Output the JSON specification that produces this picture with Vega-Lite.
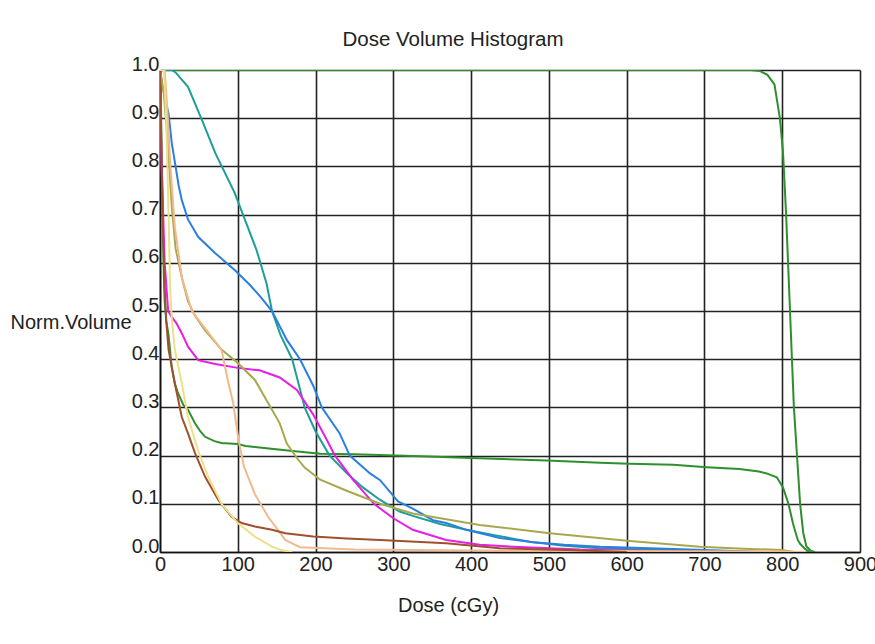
{
  "$schema": "https://vega.github.io/schema/vega-lite/v6.json",
  "width": 700,
  "height": 482,
  "autosize": {"type": "none"},
  "padding": {"left": 160, "top": 70, "right": 15, "bottom": 92},
  "background": "white",
  "title": {"text": "Dose Volume Histogram", "fontSize": 20.5, "fontWeight": "normal", "font": "Liberation Sans", "color": "#222222", "anchor": "middle", "frame": "group", "dx": -57, "offset": 4},
  "config": {
    "view": {"stroke": null},
    "axis": {"labelFont": "Liberation Sans", "titleFont": "Liberation Sans", "labelFontSize": 20, "titleFontSize": 20, "labelColor": "#222222", "titleColor": "#222222", "titleFontWeight": "normal", "gridColor": "#222222", "gridWidth": 1.6, "gridOpacity": 1, "domainColor": "#111111", "domainWidth": 1.6, "ticks": false, "labelFlush": false}
  },
  "data": {"values": [
    {"s":"PTV","d":0,"v":1.0},{"s":"PTV","d":700,"v":1.0},{"s":"PTV","d":760,"v":1.0},{"s":"PTV","d":771,"v":0.998},{"s":"PTV","d":781,"v":0.99},{"s":"PTV","d":790,"v":0.97},{"s":"PTV","d":797,"v":0.9},{"s":"PTV","d":801,"v":0.83},{"s":"PTV","d":805,"v":0.7},{"s":"PTV","d":810,"v":0.5},{"s":"PTV","d":815,"v":0.3},{"s":"PTV","d":819,"v":0.2},{"s":"PTV","d":823,"v":0.1},{"s":"PTV","d":827,"v":0.04},{"s":"PTV","d":831,"v":0.012},{"s":"PTV","d":837,"v":0.002},{"s":"PTV","d":842,"v":0.0},
    {"s":"G2","d":0,"v":1.0},{"s":"G2","d":1,"v":0.95},{"s":"G2","d":2,"v":0.85},{"s":"G2","d":3,"v":0.75},{"s":"G2","d":4,"v":0.65},{"s":"G2","d":5,"v":0.57},{"s":"G2","d":6,"v":0.52},{"s":"G2","d":8,"v":0.48},{"s":"G2","d":11,"v":0.45},{"s":"G2","d":15,"v":0.384},{"s":"G2","d":19,"v":0.35},{"s":"G2","d":23,"v":0.33},{"s":"G2","d":30,"v":0.305},{"s":"G2","d":36,"v":0.295},{"s":"G2","d":45,"v":0.267},{"s":"G2","d":52,"v":0.25},{"s":"G2","d":58,"v":0.239},{"s":"G2","d":70,"v":0.23},{"s":"G2","d":79,"v":0.226},{"s":"G2","d":100,"v":0.224},{"s":"G2","d":110,"v":0.22},{"s":"G2","d":122,"v":0.218},{"s":"G2","d":161,"v":0.211},{"s":"G2","d":206,"v":0.204},{"s":"G2","d":250,"v":0.203},{"s":"G2","d":325,"v":0.199},{"s":"G2","d":400,"v":0.195},{"s":"G2","d":497,"v":0.19},{"s":"G2","d":566,"v":0.185},{"s":"G2","d":604,"v":0.183},{"s":"G2","d":660,"v":0.181},{"s":"G2","d":703,"v":0.176},{"s":"G2","d":745,"v":0.172},{"s":"G2","d":770,"v":0.167},{"s":"G2","d":780,"v":0.163},{"s":"G2","d":793,"v":0.155},{"s":"G2","d":801,"v":0.134},{"s":"G2","d":808,"v":0.1},{"s":"G2","d":814,"v":0.058},{"s":"G2","d":820,"v":0.025},{"s":"G2","d":823,"v":0.017},{"s":"G2","d":829,"v":0.007},{"s":"G2","d":835,"v":0.0},
    {"s":"Teal","d":0,"v":1.0},{"s":"Teal","d":15,"v":1.0},{"s":"Teal","d":20,"v":0.995},{"s":"Teal","d":36,"v":0.965},{"s":"Teal","d":54,"v":0.896},{"s":"Teal","d":71,"v":0.828},{"s":"Teal","d":96,"v":0.745},{"s":"Teal","d":111,"v":0.682},{"s":"Teal","d":124,"v":0.627},{"s":"Teal","d":137,"v":0.557},{"s":"Teal","d":144,"v":0.5},{"s":"Teal","d":155,"v":0.45},{"s":"Teal","d":170,"v":0.4},{"s":"Teal","d":186,"v":0.3},{"s":"Teal","d":200,"v":0.25},{"s":"Teal","d":218,"v":0.2},{"s":"Teal","d":240,"v":0.164},{"s":"Teal","d":260,"v":0.135},{"s":"Teal","d":283,"v":0.108},{"s":"Teal","d":308,"v":0.084},{"s":"Teal","d":325,"v":0.075},{"s":"Teal","d":360,"v":0.058},{"s":"Teal","d":394,"v":0.046},{"s":"Teal","d":430,"v":0.035},{"s":"Teal","d":480,"v":0.02},{"s":"Teal","d":520,"v":0.013},{"s":"Teal","d":566,"v":0.008},{"s":"Teal","d":620,"v":0.005},{"s":"Teal","d":700,"v":0.002},{"s":"Teal","d":760,"v":0.0},
    {"s":"Blue","d":0,"v":1.0},{"s":"Blue","d":3,"v":0.97},{"s":"Blue","d":8,"v":0.93},{"s":"Blue","d":11,"v":0.91},{"s":"Blue","d":15,"v":0.85},{"s":"Blue","d":19,"v":0.81},{"s":"Blue","d":24,"v":0.76},{"s":"Blue","d":28,"v":0.73},{"s":"Blue","d":36,"v":0.69},{"s":"Blue","d":49,"v":0.654},{"s":"Blue","d":71,"v":0.62},{"s":"Blue","d":96,"v":0.585},{"s":"Blue","d":115,"v":0.555},{"s":"Blue","d":129,"v":0.53},{"s":"Blue","d":144,"v":0.5},{"s":"Blue","d":163,"v":0.44},{"s":"Blue","d":180,"v":0.4},{"s":"Blue","d":197,"v":0.345},{"s":"Blue","d":208,"v":0.3},{"s":"Blue","d":231,"v":0.246},{"s":"Blue","d":244,"v":0.2},{"s":"Blue","d":270,"v":0.163},{"s":"Blue","d":283,"v":0.149},{"s":"Blue","d":306,"v":0.105},{"s":"Blue","d":325,"v":0.09},{"s":"Blue","d":351,"v":0.066},{"s":"Blue","d":368,"v":0.06},{"s":"Blue","d":394,"v":0.046},{"s":"Blue","d":437,"v":0.029},{"s":"Blue","d":480,"v":0.02},{"s":"Blue","d":520,"v":0.015},{"s":"Blue","d":566,"v":0.011},{"s":"Blue","d":630,"v":0.008},{"s":"Blue","d":700,"v":0.004},{"s":"Blue","d":780,"v":0.0},
    {"s":"Magenta","d":0,"v":1.0},{"s":"Magenta","d":2,"v":0.81},{"s":"Magenta","d":6,"v":0.6},{"s":"Magenta","d":10.5,"v":0.5},{"s":"Magenta","d":14,"v":0.49},{"s":"Magenta","d":21,"v":0.475},{"s":"Magenta","d":28,"v":0.454},{"s":"Magenta","d":36,"v":0.426},{"s":"Magenta","d":49,"v":0.398},{"s":"Magenta","d":71,"v":0.39},{"s":"Magenta","d":100,"v":0.382},{"s":"Magenta","d":128,"v":0.377},{"s":"Magenta","d":154,"v":0.362},{"s":"Magenta","d":176,"v":0.336},{"s":"Magenta","d":197,"v":0.285},{"s":"Magenta","d":212,"v":0.24},{"s":"Magenta","d":225,"v":0.2},{"s":"Magenta","d":248,"v":0.15},{"s":"Magenta","d":275,"v":0.1},{"s":"Magenta","d":300,"v":0.07},{"s":"Magenta","d":325,"v":0.046},{"s":"Magenta","d":368,"v":0.025},{"s":"Magenta","d":411,"v":0.015},{"s":"Magenta","d":454,"v":0.011},{"s":"Magenta","d":540,"v":0.005},{"s":"Magenta","d":600,"v":0.003},{"s":"Magenta","d":700,"v":0.0},
    {"s":"Olive","d":0,"v":1.0},{"s":"Olive","d":5,"v":0.95},{"s":"Olive","d":10,"v":0.85},{"s":"Olive","d":15,"v":0.72},{"s":"Olive","d":20,"v":0.63},{"s":"Olive","d":28,"v":0.57},{"s":"Olive","d":36,"v":0.52},{"s":"Olive","d":45,"v":0.49},{"s":"Olive","d":58,"v":0.46},{"s":"Olive","d":79,"v":0.42},{"s":"Olive","d":98,"v":0.395},{"s":"Olive","d":122,"v":0.357},{"s":"Olive","d":144,"v":0.295},{"s":"Olive","d":154,"v":0.267},{"s":"Olive","d":163,"v":0.225},{"s":"Olive","d":176,"v":0.195},{"s":"Olive","d":186,"v":0.175},{"s":"Olive","d":206,"v":0.15},{"s":"Olive","d":240,"v":0.127},{"s":"Olive","d":283,"v":0.1},{"s":"Olive","d":325,"v":0.08},{"s":"Olive","d":411,"v":0.056},{"s":"Olive","d":501,"v":0.039},{"s":"Olive","d":604,"v":0.023},{"s":"Olive","d":694,"v":0.011},{"s":"Olive","d":750,"v":0.007},{"s":"Olive","d":800,"v":0.004},{"s":"Olive","d":815,"v":0.0},
    {"s":"Peach","d":0,"v":1.0},{"s":"Peach","d":6,"v":1.0},{"s":"Peach","d":9,"v":0.93},{"s":"Peach","d":13,"v":0.81},{"s":"Peach","d":19,"v":0.675},{"s":"Peach","d":28,"v":0.57},{"s":"Peach","d":41,"v":0.5},{"s":"Peach","d":60,"v":0.46},{"s":"Peach","d":79,"v":0.42},{"s":"Peach","d":88,"v":0.35},{"s":"Peach","d":94,"v":0.31},{"s":"Peach","d":101,"v":0.232},{"s":"Peach","d":108,"v":0.177},{"s":"Peach","d":122,"v":0.12},{"s":"Peach","d":139,"v":0.073},{"s":"Peach","d":161,"v":0.025},{"s":"Peach","d":180,"v":0.01},{"s":"Peach","d":250,"v":0.005},{"s":"Peach","d":400,"v":0.003},{"s":"Peach","d":600,"v":0.002},{"s":"Peach","d":800,"v":0.001},{"s":"Peach","d":830,"v":0.0},
    {"s":"Brown","d":0,"v":1.0},{"s":"Brown","d":2,"v":0.8},{"s":"Brown","d":4,"v":0.65},{"s":"Brown","d":6,"v":0.55},{"s":"Brown","d":8,"v":0.48},{"s":"Brown","d":11,"v":0.42},{"s":"Brown","d":19,"v":0.35},{"s":"Brown","d":28,"v":0.28},{"s":"Brown","d":36,"v":0.246},{"s":"Brown","d":45,"v":0.205},{"s":"Brown","d":58,"v":0.156},{"s":"Brown","d":75,"v":0.108},{"s":"Brown","d":92,"v":0.073},{"s":"Brown","d":105,"v":0.06},{"s":"Brown","d":122,"v":0.053},{"s":"Brown","d":144,"v":0.046},{"s":"Brown","d":161,"v":0.039},{"s":"Brown","d":197,"v":0.032},{"s":"Brown","d":240,"v":0.028},{"s":"Brown","d":283,"v":0.025},{"s":"Brown","d":368,"v":0.018},{"s":"Brown","d":437,"v":0.008},{"s":"Brown","d":523,"v":0.004},{"s":"Brown","d":600,"v":0.0},
    {"s":"Yellow","d":0,"v":1.0},{"s":"Yellow","d":5,"v":1.0},{"s":"Yellow","d":8,"v":0.9},{"s":"Yellow","d":11,"v":0.7},{"s":"Yellow","d":13,"v":0.55},{"s":"Yellow","d":15,"v":0.488},{"s":"Yellow","d":19,"v":0.42},{"s":"Yellow","d":28,"v":0.35},{"s":"Yellow","d":36,"v":0.28},{"s":"Yellow","d":49,"v":0.21},{"s":"Yellow","d":62,"v":0.156},{"s":"Yellow","d":79,"v":0.1},{"s":"Yellow","d":100,"v":0.06},{"s":"Yellow","d":122,"v":0.032},{"s":"Yellow","d":144,"v":0.011},{"s":"Yellow","d":156,"v":0.004},{"s":"Yellow","d":170,"v":0.0}
  ]},
  "mark": {"type": "line", "strokeWidth": 2, "clip": true},
  "encoding": {
    "x": {"field": "d", "type": "quantitative", "scale": {"domain": [0, 900], "nice": false}, "axis": {"title": "Dose (cGy)", "values": [0,100,200,300,400,500,600,700,800,900], "format": "d", "labelPadding": 2, "titleX": 288, "titleY": 53, "titleAlign": "center", "titleBaseline": "middle"}},
    "y": {"field": "v", "type": "quantitative", "scale": {"domain": [0, 1], "nice": false}, "axis": {"title": "Norm.Volume", "values": [0,0.1,0.2,0.3,0.4,0.5,0.6,0.7,0.8,0.9,1.0], "format": ".1f", "labelBaseline": "alphabetic", "labelPadding": 1, "titleAngle": 0, "titleAlign": "left", "titleBaseline": "middle", "titleX": -150, "titleY": 252}},
    "color": {"field": "s", "type": "nominal", "legend": null, "sort": ["Yellow","Brown","Peach","Olive","Magenta","Blue","Teal","G2","PTV"], "scale": {"domain": ["Yellow","Brown","Peach","Olive","Magenta","Blue","Teal","G2","PTV"], "range": ["#eee08a","#a0502e","#f2b98f","#a8a84e","#e61ee6","#2b7fe0","#1e9e96","#2f8f2f","#2f8f2f"]}}
  }
}
